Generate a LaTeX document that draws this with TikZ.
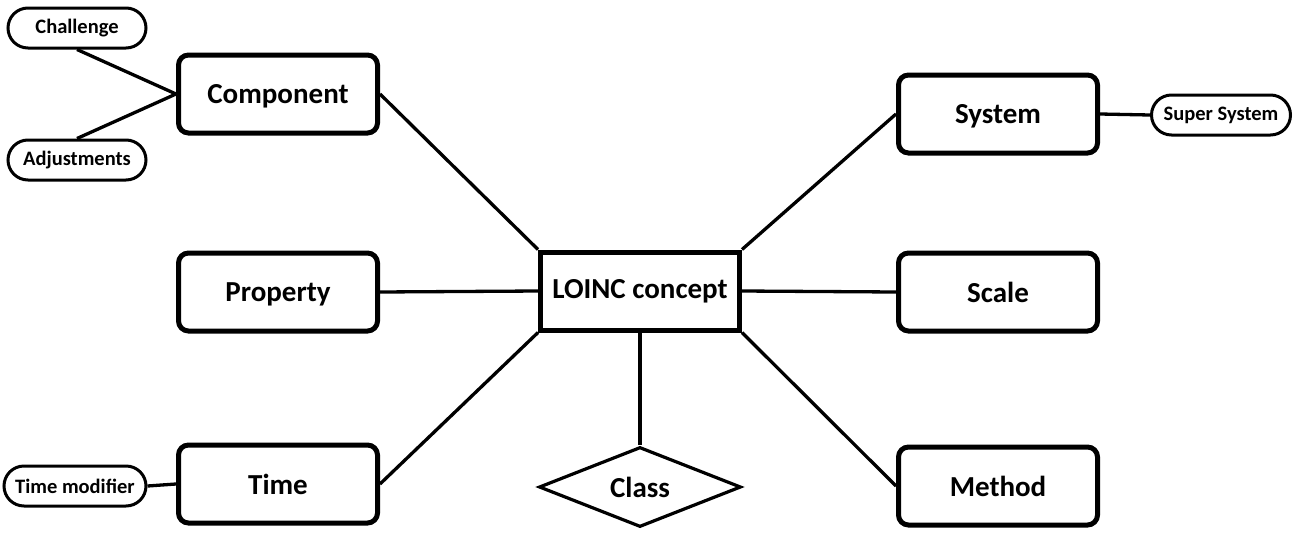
\documentclass[tikz,border=0pt]{standalone}
\usepackage{fontspec}
\setmainfont{Carlito}
\usetikzlibrary{shapes.geometric}
\begin{document}
\begin{tikzpicture}[x=1pt,y=-1pt,
  bigbox/.style={draw, line width=5pt, rounded corners=10pt, minimum width=199pt, minimum height=78pt, inner sep=0pt, text depth=0pt, yshift=0pt, font=\fontsize{29}{31}\selectfont\bfseries},
  conceptbox/.style={draw, line width=5pt, minimum width=199pt, minimum height=78pt, inner sep=0pt, font=\fontsize{29}{31}\selectfont\bfseries},
  pill/.style={draw, line width=3pt, rounded corners=20pt, minimum height=40pt, inner sep=0pt, font=\fontsize{20.5}{22}\selectfont\bfseries},
  classshape/.style={draw, diamond, line width=3.2pt, minimum width=202pt, minimum height=80pt, aspect=2.5, inner sep=0pt, font=\fontsize{29}{31}\selectfont\bfseries},
  link/.style={line width=3.3pt}]
\useasboundingbox (0,0) rectangle (1299,536);
\fill[white] (0,0) rectangle (1299,536);
\node[bigbox] (comp) at (278,94) {Component};
\node[bigbox] (sys) at (998,114) {System};
\node[bigbox] (prop) at (278,292) {Property};
\node[bigbox] (scale) at (998,292) {Scale};
\node[bigbox] (time) at (278,484) {Time};
\node[bigbox] (meth) at (998,486) {Method};
\node[conceptbox] (loinc) at (640,291) {LOINC concept};
\node[classshape] (class) at (640,487) {Class};
\node[pill, minimum width=138pt] (chal) at (77,28) {Challenge};
\node[pill, minimum width=138pt] (adj) at (77,160) {Adjustments};
\node[pill, minimum width=139pt] (super) at (1221,115) {Super System};
\node[pill, minimum width=142pt] (tmod) at (75,486) {Time modifier};
\draw[link] (chal.south) -- (comp.west);
\draw[link] (adj.north) -- (comp.west);
\draw[link] (comp.east) -- (loinc.north west);
\draw[link] (loinc.north east) -- (sys.west);
\draw[link] (sys.east) -- (super.west);
\draw[link] (prop.east) -- (loinc.west);
\draw[link] (loinc.east) -- (scale.west);
\draw[link] (time.east) -- (loinc.south west);
\draw[link] (loinc.south east) -- (meth.west);
\draw[link] (loinc.south) -- (class.north);
\draw[link] (tmod.east) -- (time.west);
\end{tikzpicture}
\end{document}
